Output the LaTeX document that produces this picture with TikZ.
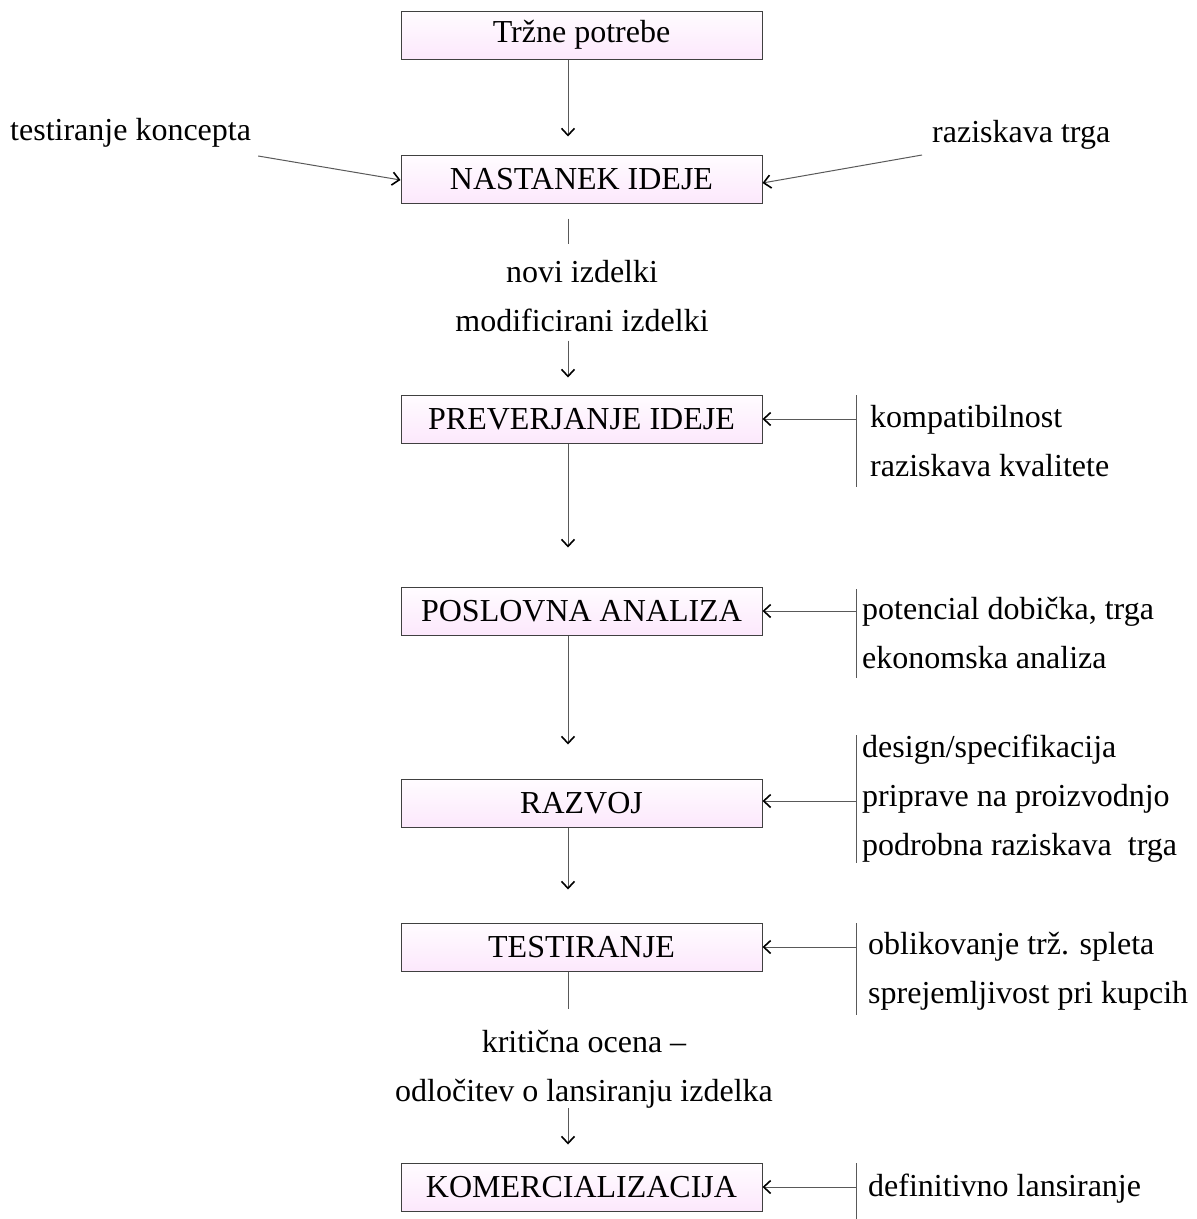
\documentclass[tikz,border=0pt]{standalone}
\usepackage{fontspec}
\setmainfont{Liberation Serif}
\usetikzlibrary{arrows.meta,positioning,calc}
\definecolor{boxtop}{RGB}{255,252,255}
\definecolor{boxbot}{RGB}{252,232,252}
\tikzset{
stagebox/.style={draw=black!75, line width=1pt, top color=boxtop, bottom color=boxbot,
  minimum width=361pt, minimum height=48pt, inner sep=0pt},
arr/.style={-{Straight Barb[length=7pt,width=13pt,color=black,line width=1.6pt]}, draw=black!65, line width=1pt},
link/.style={draw=black!65, line width=1pt},
sidenote/.style={anchor=base west, align=left, inner sep=0pt},
midnote/.style={anchor=base, align=center, inner sep=0pt},
}
\tikzstyle{every node}=[font=\fontsize{32}{49}\selectfont]

\begin{document}
\begin{tikzpicture}[x=1pt,y=-1pt]
    \useasboundingbox (0,0) rectangle (1197,1219);
    \coordinate (axis) at (568,0);

    % stages
    \node[stagebox] (trzne) at (581.5,35) {Tržne potrebe};
    \node[stagebox] (ideja) at (581.5,179) {NASTANEK IDEJE};
    \node[stagebox] (prever) at (581.5,419) {PREVERJANJE IDEJE};
    \node[stagebox] (posl) at (581.5,611) {POSLOVNA ANALIZA};
    \node[stagebox] (razvoj) at (581.5,803) {RAZVOJ};
    \node[stagebox] (test) at (581.5,947) {TESTIRANJE};
    \node[stagebox] (komerc) at (581.5,1187) {KOMERCIALIZACIJA};

    % inputs to the idea
    \node[sidenote] (konc) at (10,140) {testiranje koncepta};
    \node[sidenote] (trg) at (932,142) {raziskava trga};
    \draw[arr] ([xshift=7pt,yshift=-16pt]konc.base east) -- ([yshift=-1pt]ideja.west);
    \draw[arr] ([xshift=-10pt,yshift=-13pt]trg.base west) -- ([yshift=-4pt]ideja.east);

    % main flow
    \draw[arr] (trzne.south -| axis) -- ([yshift=18pt]ideja.north -| axis);
    \draw[link] ([yshift=-15pt]ideja.south -| axis) -- ++(0,25);
    \node[midnote] (novi) at (582,331) {novi izdelki\\modificirani izdelki};
    \draw[arr] ([yshift=-9pt]novi.south -| axis) -- ([yshift=17pt]prever.north -| axis);
    \draw[arr] (prever.south -| axis) -- ([yshift=39pt]posl.north -| axis);
    \draw[arr] (posl.south -| axis) -- ([yshift=34pt]razvoj.north -| axis);
    \draw[arr] (razvoj.south -| axis) -- ([yshift=33pt]test.north -| axis);
    \draw[link] (test.south -| axis) -- ++(0,37);
    \node[midnote] (krit) at (584,1101) {kritična ocena –\\odločitev o lansiranju izdelka};
    \draw[arr] (krit.south -| axis) -- ([yshift=18pt]komerc.north -| axis);

    % side notes
    \draw[link] (856,395) coordinate (kb) -- (856,487);
    \node[sidenote] (kompat) at (870,476) {kompatibilnost\\raziskava kvalitete};
    \draw[arr] (prever.east -| kb) -- (prever.east);

    \draw[link] (856,589) coordinate (pb) -- (856,678);
    \node[sidenote] (poten) at (862,668) {potencial dobička, trga\\ekonomska analiza};
    \draw[arr] (posl.east -| pb) -- (posl.east);

    \draw[link] (856,735) coordinate (rb) -- (856,863);
    \node[sidenote] (design) at (862,855) {design/specifikacija\\priprave na proizvodnjo\\podrobna raziskava~ trga};
    \draw[arr] ([yshift=2pt]razvoj.east -| rb) -- ([yshift=2pt]razvoj.east);

    \draw[link] (856,923) coordinate (tb) -- (856,1015);
    \node[sidenote] (oblik) at (868,1003) {oblikovanje trž. spleta\\sprejemljivost pri kupcih};
    \draw[arr] (test.east -| tb) -- (test.east);

    \draw[link] (856,1163) coordinate (kmb) -- (856,1219);
    \node[sidenote] (defin) at (868,1196) {definitivno lansiranje};
    \draw[arr] (komerc.east -| kmb) -- (komerc.east);
\end{tikzpicture}
\end{document}
